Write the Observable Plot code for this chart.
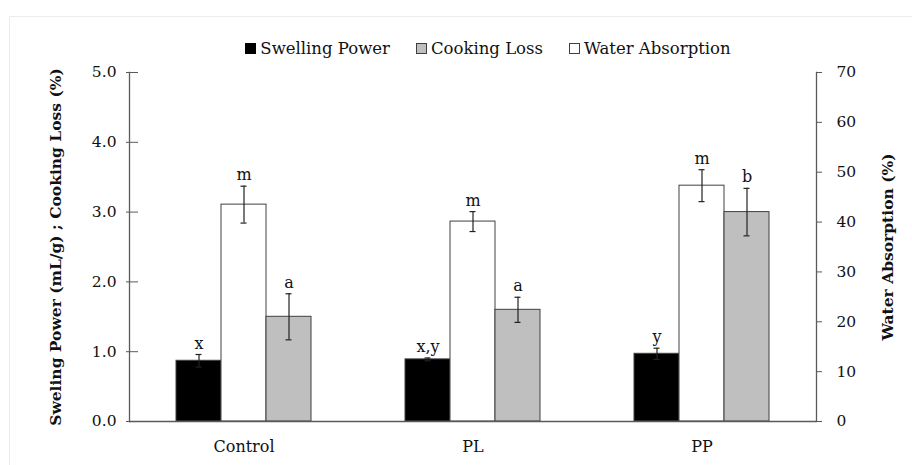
<!DOCTYPE html>
<html>
<head>
<meta charset="utf-8">
<script src="https://cdn.jsdelivr.net/npm/d3@7"></script>
<script src="https://cdn.jsdelivr.net/npm/@observablehq/plot@0.6"></script>
<style>
  body { margin: 0; background: #fff; font-family: "DejaVu Serif", serif; }
  #wrap { position: relative; width: 912px; height: 465px; overflow: hidden; }
  #border { position: absolute; left: 9px; top: 16px; width: 1000px; height: 1000px; border-top: 1px solid #ececec; border-left: 1px solid #ececec; pointer-events: none; }
  #legend { height: 60px; display: flex; justify-content: center; align-items: flex-end; padding-left: 64px; box-sizing: border-box; width: 912px; font-size: 16.5px; color: #111; }
  #legend .item { display: flex; align-items: center; margin: 0 13px 2px 13px; }
  #legend .sw { width: 11px; height: 11px; box-sizing: border-box; border: 1px solid #404040; margin-right: 4px; }
  svg [aria-label="y-axis label"] text, svg [aria-label="y-axis label"] { font-weight: bold; font-size: 15.5px; }
</style>
</head>
<body>
<div id="wrap">
  <div id="border"></div>
  <div id="legend"></div>
  <div id="chart"></div>
</div>
<script>
// ---- data ----
const categories = ["Control", "PL", "PP"];
const seriesNames = ["Swelling Power", "Cooking Loss", "Water Absorption"]; // legend order
const barOrder = ["Swelling Power", "Water Absorption", "Cooking Loss"];   // order within groups
const seriesColors = ["#000000", "#bfbfbf", "#ffffff"];

const swellingPower = [0.87, 0.89, 0.97];
const swellingPowerErr = [0.09, 0.02, 0.08];
const swellingPowerLetters = ["x", "x,y", "y"];

const waterAbsorption = [43.5, 40.1, 47.3];
const waterAbsorptionErr = [3.7, 2.0, 3.2];
const waterAbsorptionLetters = ["m", "m", "m"];

const cookingLoss = [1.50, 1.60, 3.00];
const cookingLossErr = [0.33, 0.18, 0.34];
const cookingLossLetters = ["a", "a", "b"];

const leftTicks = [0, 1, 2, 3, 4, 5];
const rightTicks = [0, 10, 20, 30, 40, 50, 60, 70];
const leftMax = 5, rightMax = 70;
const k = rightMax / leftMax;

// ---- table ----
const rows = categories.flatMap((c, i) => [
  {cat: c, series: "Swelling Power", v: swellingPower[i], e: swellingPowerErr[i], lab: swellingPowerLetters[i]},
  {cat: c, series: "Water Absorption", v: waterAbsorption[i] / k, e: waterAbsorptionErr[i] / k, lab: waterAbsorptionLetters[i]},
  {cat: c, series: "Cooking Loss", v: cookingLoss[i], e: cookingLossErr[i], lab: cookingLossLetters[i]}
]);

// ---- legend ----
const legend = document.getElementById("legend");
seriesNames.forEach((s, i) => {
  const it = document.createElement("div");
  it.className = "item";
  const sw = document.createElement("div");
  sw.className = "sw";
  sw.style.background = seriesColors[i];
  if (i === 0) sw.style.borderColor = "#000";
  it.appendChild(sw);
  it.appendChild(document.createTextNode(s));
  legend.appendChild(it);
});

const axisColor = "#5a5a5a";
const rightTickPos = rightTicks.map(v => v / k);

const chart = Plot.plot({
  width: 912,
  height: 405,
  marginTop: 12,
  marginBottom: 44,
  marginLeft: 128,
  marginRight: 95,
  style: {fontFamily: "DejaVu Serif, serif", fontSize: "15px", color: "#111", background: "transparent"},
  fx: {domain: categories, padding: 0, label: null},
  x: {domain: barOrder, paddingInner: 0, paddingOuter: 1, axis: null},
  y: {domain: [0, leftMax]},
  color: {domain: seriesNames, range: seriesColors},
  marks: [
    Plot.barY(rows, {fx: "cat", x: "series", y: "v", fill: "series", stroke: "#404040", strokeWidth: 1}),
    Plot.ruleX(rows, {fx: "cat", x: "series", y1: d => d.v - d.e, y2: d => d.v + d.e, stroke: "#222", strokeWidth: 1.2}),
    Plot.tickY(rows, {fx: "cat", x: "series", y: d => d.v + d.e, stroke: "#222", strokeWidth: 1.2, insetLeft: 19.5, insetRight: 19.5}),
    Plot.tickY(rows, {fx: "cat", x: "series", y: d => d.v - d.e, stroke: "#222", strokeWidth: 1.2, insetLeft: 19.5, insetRight: 19.5}),
    Plot.text(rows, {fx: "cat", x: "series", y: d => d.v + d.e, text: "lab", dy: -11, fontSize: 16, fill: "#111"}),
    Plot.ruleY([0], {stroke: axisColor, strokeWidth: 1.3}),
    Plot.frame({anchor: "left", facetAnchor: "left", stroke: axisColor, strokeWidth: 1.3}),
    Plot.frame({anchor: "right", facetAnchor: "right", stroke: axisColor, strokeWidth: 1.3}),
    Plot.axisY({anchor: "left", ticks: leftTicks, tickFormat: d3.format(".1f"), tickSize: 3, tickPadding: 10, stroke: axisColor, fontSize: 15.5,
      label: "Sweling Power (mL/g) ; Cooking Loss (%)", labelAnchor: "center", labelOffset: 80, labelArrow: "none"}),
    Plot.axisY({anchor: "left", ticks: leftTicks, tickSize: -9, text: null, label: null, stroke: axisColor}),
    Plot.axisY({anchor: "right", ticks: rightTickPos, tickSize: 5, text: null, stroke: axisColor,
      label: "Water Absorption (%)", labelAnchor: "center", labelOffset: 76, labelArrow: "none"}),
    Plot.text(rightTickPos, {y: d => d, text: d => String(Math.round(d * k)), frameAnchor: "right", textAnchor: "start",
      dx: 20, facetAnchor: "right", fontSize: 15.5, fill: "#111"}),
    Plot.axisFx({anchor: "bottom", tickSize: 0, tickPadding: 19, label: null, fontSize: 16})
  ]
});
// strip any label arrows
chart.querySelectorAll('[aria-label="y-axis label"] text, [aria-label="y-axis label"] tspan').forEach(t => {
  if (t.childElementCount === 0) t.textContent = t.textContent.replace(/\s*[↑↓→←]\s*/g, "").trim();
});
document.getElementById("chart").appendChild(chart);
</script>
</body>
</html>
